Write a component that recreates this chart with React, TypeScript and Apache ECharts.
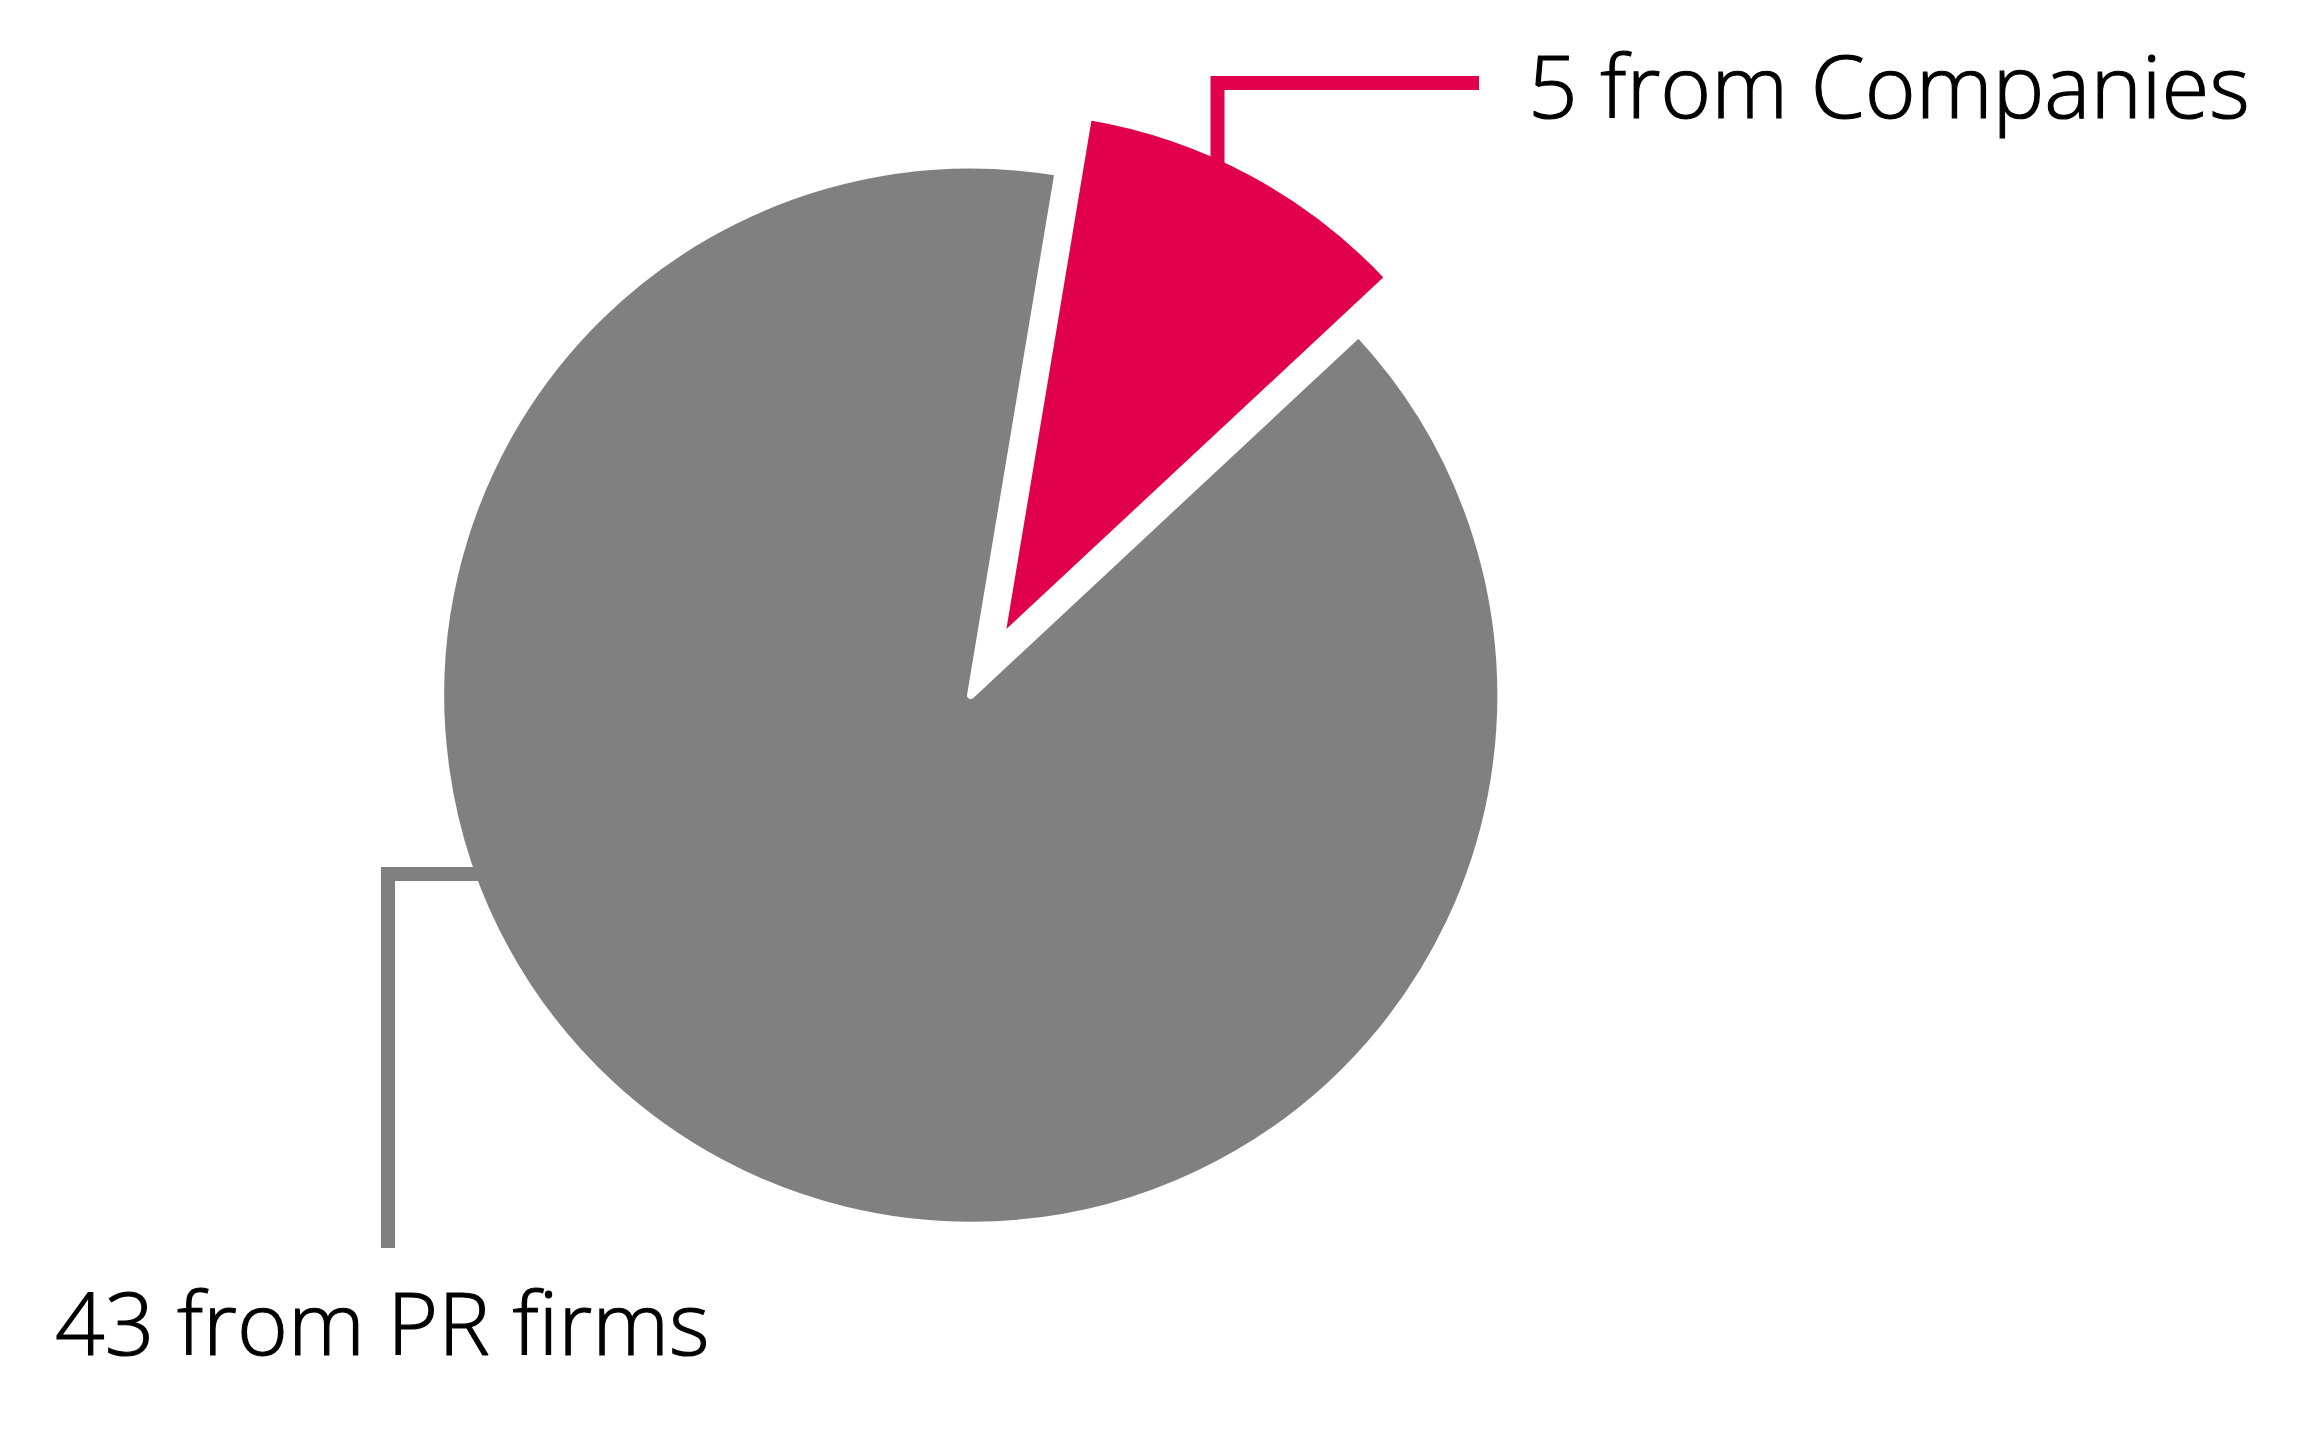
import React, { useEffect, useRef } from "react";
import * as echarts from "echarts";

// ---- data ----
const categories: string[] = ["Companies", "PR firms"];
const values: number[] = [5, 43];
const exploded: boolean[] = [true, false];

// ---- styles / layout ----
const sliceColors = ["#E1004C", "#808080"];
const CENTER: [number, number] = [970.8, 695.2];
const RADIUS = 530.3;
const BORDER_W = 7.5;
const EXPLODE_OFFSET = 63.5;
const START_ANGLE = 80.5;
const FONT_FAMILY = "'Open Sans', 'Noto Sans', sans-serif";
const FONT_SIZE = 87;
const FONT_WEIGHT = 300;
const LINE_W = 14;

// leader line geometry per slice (elbow callouts)
type Callout =
  | { kind: "upRight"; lineX: number; lineY: number; lineEndX: number; textX: number; textY: number }
  | { kind: "leftDown"; lineX: number; lineY: number; lineEndY: number; textX: number; textY: number };

const callouts: Callout[] = [
  { kind: "upRight", lineX: 1217.5, lineY: 83, lineEndX: 1479, textX: 1528, textY: 84 },
  { kind: "leftDown", lineX: 388, lineY: 874, lineEndY: 1248, textX: 55, textY: 1321 },
];

function sliceCenter(i: number): [number, number] {
  const total = values.reduce((a, b) => a + b, 0);
  let acc = 0;
  for (let j = 0; j < i; j++) acc += values[j];
  const a0 = START_ANGLE - (acc / total) * 360;
  const a1 = a0 - (values[i] / total) * 360;
  const mid = (((a0 + a1) / 2) * Math.PI) / 180;
  const off = exploded[i] ? EXPLODE_OFFSET : 0;
  return [CENTER[0] + off * Math.cos(mid), CENTER[1] - off * Math.sin(mid)];
}

function leaderPoints(i: number): number[][] {
  const rIn = RADIUS - BORDER_W / 2 - 4;
  const c = callouts[i];
  const [ex, ey] = sliceCenter(i);
  if (c.kind === "upRight") {
    const y0 = ey - Math.sqrt(rIn * rIn - (c.lineX - ex) * (c.lineX - ex));
    return [
      [c.lineX, y0],
      [c.lineX, c.lineY],
      [c.lineEndX, c.lineY],
    ];
  }
  const x0 = ex - Math.sqrt(rIn * rIn - (c.lineY - ey) * (c.lineY - ey));
  return [
    [x0, c.lineY],
    [c.lineX, c.lineY],
    [c.lineX, c.lineEndY],
  ];
}

const hidden = "rgba(0,0,0,0)";

export default function App() {
  const ref = useRef<HTMLDivElement>(null);

  useEffect(() => {
    if (!ref.current) return;
    const chart = echarts.init(ref.current, undefined, { renderer: "svg" });

    const labelLayout = (p: any) => {
      const c = callouts[p.dataIndex];
      return { x: c.textX, y: c.textY, align: "left", verticalAlign: "middle" };
    };

    // one pie series for the base pie, one for the exploded slice(s)
    const makeSeries = (explodedGroup: boolean) => {
      const center = explodedGroup
        ? sliceCenter(exploded.findIndex((e) => e))
        : CENTER;
      return {
        type: "pie",
        center,
        radius: RADIUS,
        startAngle: START_ANGLE,
        clockwise: true,
        avoidLabelOverlap: false,
        silent: true,
        emphasis: { disabled: true },
        label: {
          position: "outside",
          formatter: "{c} from {b}",
          fontFamily: FONT_FAMILY,
          fontSize: FONT_SIZE,
          fontWeight: FONT_WEIGHT,
          color: "#000000",
          textBorderColor: "#000000",
          textBorderWidth: 1.2,
        },
        labelLine: { show: false },
        labelLayout,
        data: categories.map((name, i) => {
          const visible = exploded[i] === explodedGroup;
          return {
            name,
            value: values[i],
            itemStyle: visible
              ? { color: sliceColors[i], borderColor: "#ffffff", borderWidth: BORDER_W, borderJoin: "round" }
              : { color: hidden, borderWidth: 0 },
            label: { show: visible },
          };
        }),
      };
    };

    const option: any = {
      animation: false,
      backgroundColor: "#ffffff",
      series: [makeSeries(false), makeSeries(true)],
      graphic: categories.map((_, i) => ({
        type: "polyline",
        z: 100,
        silent: true,
        shape: { points: leaderPoints(i) },
        style: {
          stroke: sliceColors[i],
          lineWidth: LINE_W,
          fill: null,
          lineJoin: "miter",
          lineCap: "butt",
        },
      })),
    };
    chart.setOption(option);
    return () => chart.dispose();
  }, []);

  return (
    <div
      ref={ref}
      style={{ position: "absolute", left: 0, top: 0, width: 2306, height: 1432 }}
    />
  );
}
